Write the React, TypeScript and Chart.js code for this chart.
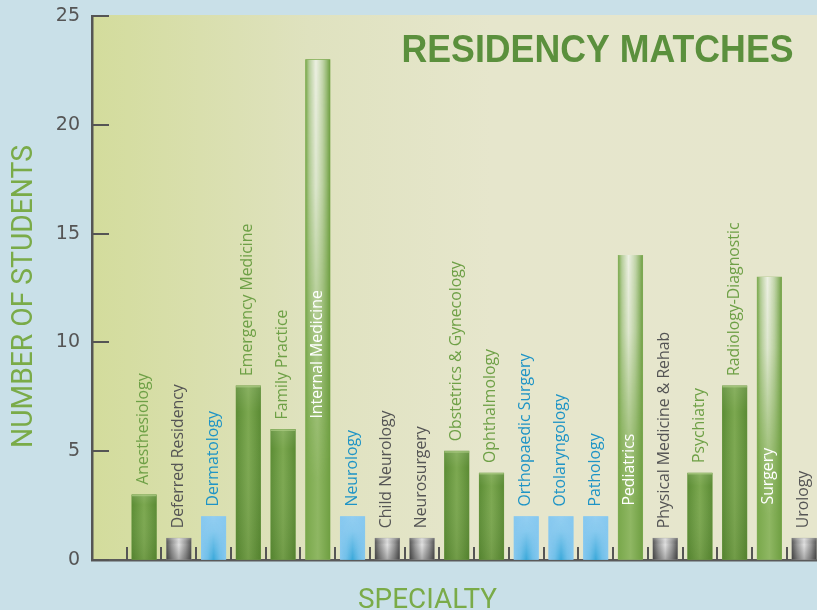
import React, { useEffect, useRef } from 'react';
import { Chart, registerables } from 'chart.js';

Chart.register(...registerables);

const categories = [
  'Anesthesiology',
  'Deferred Residency',
  'Dermatology',
  'Emergency Medicine',
  'Family Practice',
  'Internal Medicine',
  'Neurology',
  'Child Neurology',
  'Neurosurgery',
  'Obstetrics & Gynecology',
  'Ophthalmology',
  'Orthopaedic Surgery',
  'Otolaryngology',
  'Pathology',
  'Pediatrics',
  'Physical Medicine & Rehab',
  'Psychiatry',
  'Radiology-Diagnostic',
  'Surgery',
  'Urology',
];
const students = [3, 1, 2, 8, 6, 23, 2, 1, 1, 5, 4, 2, 2, 2, 14, 1, 4, 8, 13, 1];
const groups = [
  'green', 'gray', 'blue', 'green', 'green', 'tall', 'blue', 'gray', 'gray', 'green',
  'green', 'blue', 'blue', 'blue', 'tall', 'gray', 'green', 'green', 'tall', 'gray',
];
const yTickStep = 5;
const yMax = 25;
const titleText = 'RESIDENCY MATCHES';
const yTitleText = 'NUMBER OF STUDENTS';
const xTitleText = 'SPECIALTY';

const flatColor: Record<string, string> = {
  green: '#6b9a42',
  tall: '#8db563',
  gray: '#8a8a8a',
  blue: '#8ccbf0',
};
const labelColor: Record<string, string> = {
  green: '#6ea046',
  tall: '#ffffff',
  gray: '#555555',
  blue: '#1e94c6',
};
// where the white in-bar labels start (value units), style only
const insideLabelAt: Record<number, number> = { 5: 6.5, 14: 2.5, 18: 2.55 };

function hGrad(ctx: CanvasRenderingContext2D, x: number, w: number, stops: [number, string][]) {
  const g = ctx.createLinearGradient(x, 0, x + w, 0);
  stops.forEach(([p, c]) => g.addColorStop(p, c));
  return g;
}
function vGrad(ctx: CanvasRenderingContext2D, y: number, h: number, stops: [number, string][]) {
  const g = ctx.createLinearGradient(0, y, 0, y + h);
  stops.forEach(([p, c]) => g.addColorStop(p, c));
  return g;
}

function overlay(
  ctx: CanvasRenderingContext2D,
  x: number, y: number, w: number, h: number,
  hStops: [number, string][], vStops: [number, number][]
) {
  const W = Math.max(1, Math.ceil(w));
  const H = Math.max(1, Math.ceil(h));
  const off = document.createElement('canvas');
  off.width = W;
  off.height = H;
  const o = off.getContext('2d')!;
  o.fillStyle = hGrad(o, 0, W, hStops);
  o.fillRect(0, 0, W, H);
  o.globalCompositeOperation = 'destination-in';
  o.fillStyle = vGrad(o, 0, H, vStops.map(([p, a]) => [p, `rgba(0,0,0,${a})`] as [number, string]));
  o.fillRect(0, 0, W, H);
  ctx.drawImage(off, x, y, w, h);
}

function drawBar(ctx: CanvasRenderingContext2D, x: number, y: number, w: number, h: number, type: string) {
  if (h <= 0) return;
  if (type === 'green') {
    ctx.fillStyle = hGrad(ctx, x, w, [[0, '#5c8d35'], [0.5, '#7ca850'], [1, '#5b8b34']]);
    ctx.fillRect(x, y, w, h);
    ctx.fillStyle = vGrad(ctx, y, h, [[0, 'rgba(255,255,255,0.10)'], [0.15, 'rgba(255,255,255,0)'], [1, 'rgba(20,50,0,0.10)']]);
    ctx.fillRect(x, y, w, h);
    ctx.fillStyle = 'rgba(175,205,135,0.7)';
    ctx.fillRect(x, y, w, 1.5);
  } else if (type === 'tall') {
    ctx.fillStyle = hGrad(ctx, x, w, [[0, '#79a84b'], [0.5, '#8fb763'], [1, '#6f9f42']]);
    ctx.fillRect(x, y, w, h);
    const c = '236,239,226';
    overlay(ctx, x, y, w, h,
      [[0, `rgba(${c},0)`], [0.15, `rgba(${c},0.5)`], [0.42, `rgba(${c},1)`], [0.7, `rgba(${c},0.6)`], [1, `rgba(${c},0)`]],
      [[0, 1], [0.25, 0.85], [0.6, 0.25], [0.85, 0]]);
  } else if (type === 'gray') {
    ctx.fillStyle = hGrad(ctx, x, w, [[0, '#585858'], [0.22, '#9c9c9c'], [0.5, '#e2e2e2'], [0.78, '#9c9c9c'], [1, '#585858']]);
    ctx.fillRect(x, y, w, h);
    ctx.fillStyle = vGrad(ctx, y, h, [[0, 'rgba(255,255,255,0.2)'], [0.3, 'rgba(0,0,0,0)'], [1, 'rgba(0,0,0,0.25)']]);
    ctx.fillRect(x, y, w, h);
  } else {
    ctx.fillStyle = hGrad(ctx, x, w, [[0, '#86c8ef'], [0.5, '#93cff2'], [1, '#86c8ef']]);
    ctx.fillRect(x, y, w, h);
    const c = '38,160,212';
    overlay(ctx, x, y, w, h,
      [[0, `rgba(${c},0)`], [0.25, `rgba(${c},0.35)`], [0.5, `rgba(${c},0.95)`], [0.75, `rgba(${c},0.35)`], [1, `rgba(${c},0)`]],
      [[0, 0], [0.35, 0.12], [1, 0.85]]);
  }
}

function fitText(
  ctx: CanvasRenderingContext2D, text: string, cx: number, baseY: number,
  width: number, font: string, color: string, angle: number
) {
  ctx.save();
  ctx.font = font;
  ctx.fillStyle = color;
  ctx.translate(cx, baseY);
  ctx.rotate(angle);
  const m = ctx.measureText(text).width;
  ctx.scale(width / m, 1);
  ctx.textAlign = 'center';
  ctx.textBaseline = 'alphabetic';
  ctx.fillText(text, 0, 0);
  ctx.restore();
}

const decorPlugin = {
  id: 'decor',
  beforeDraw(chart: any) {
    const { ctx, chartArea: a } = chart;
    ctx.save();
    ctx.fillStyle = hGrad(ctx, a.left, a.right - a.left, [
      [0, '#d3dc9c'], [0.3, '#dfe2bf'], [0.55, '#e6e6cc'], [1, '#e6e6cd'],
    ]);
    ctx.fillRect(a.left, a.top - 1, a.right - a.left, a.bottom - a.top + 1);
    ctx.restore();
  },
  afterDatasetsDraw(chart: any) {
    const { ctx, chartArea: a } = chart;
    const meta = chart.getDatasetMeta(0);
    const ys = chart.scales.y;
    ctx.save();
    ctx.beginPath();
    ctx.rect(a.left, a.top - 1, a.right - a.left, a.bottom - a.top + 1);
    ctx.clip();
    meta.data.forEach((el: any, i: number) => {
      const p = el.getProps(['x', 'y', 'base', 'width'], true);
      drawBar(ctx, p.x - p.width / 2, p.y, p.width, p.base - p.y, groups[i]);
    });
    ctx.font = '15.8px "Open Sans"';
    meta.data.forEach((el: any, i: number) => {
      const p = el.getProps(['x', 'y'], true);
      const inside = insideLabelAt[i] !== undefined;
      const start = inside ? ys.getPixelForValue(insideLabelAt[i]) : p.y - 10;
      ctx.save();
      ctx.translate(p.x + 4, start);
      ctx.rotate(-Math.PI / 2);
      ctx.textAlign = 'left';
      ctx.textBaseline = 'alphabetic';
      ctx.fillStyle = inside ? '#ffffff' : labelColor[groups[i]];
      ctx.fillText(categories[i], 0, 0);
      ctx.restore();
    });
    ctx.restore();
  },
  afterDraw(chart: any) {
    const { ctx, chartArea: a } = chart;
    const ys = chart.scales.y;
    const xs = chart.scales.x;
    ctx.save();
    ctx.strokeStyle = '#555555';
    ctx.lineWidth = 2;
    ctx.beginPath();
    ys.ticks.forEach((t: any) => {
      const py = Math.round(ys.getPixelForValue(t.value));
      ctx.moveTo(a.left, py);
      ctx.lineTo(a.left + 17, py);
    });
    for (let k = -0.5; k < xs.max; k += 1) {
      const px = Math.round(xs.getPixelForValue(k));
      ctx.moveTo(px, a.bottom);
      ctx.lineTo(px, a.bottom - 13);
    }
    ctx.stroke();
    ctx.restore();

    fitText(ctx, titleText, 597.5, 62, 392, 'bold 38px "Liberation Sans"', '#5b903d', 0);
    fitText(ctx, yTitleText, 31.5, 296.5, 303, '30px Roboto', '#7aab48', -Math.PI / 2);
    fitText(ctx, xTitleText, 427.5, 608, 139, '28px Roboto', '#7aab48', 0);
  },
};

export default function App() {
  const ref = useRef<HTMLCanvasElement>(null);
  useEffect(() => {
    if (!ref.current) return;
    const chart = new Chart(ref.current, {
      type: 'bar',
      data: {
        datasets: [
          {
            label: 'Students',
            data: students.map((v, i) => ({ x: i, y: v })),
            backgroundColor: groups.map((g) => flatColor[g]),
            borderWidth: 0,
            barThickness: 24.5,
          },
        ],
      },
      options: {
        responsive: false,
        animation: false,
        devicePixelRatio: 1,
        layout: { padding: { top: 16, bottom: 50, left: 0, right: 0 } },
        plugins: {
          legend: { display: false },
          tooltip: { enabled: false },
          title: { display: false },
        },
        scales: {
          x: {
            type: 'linear',
            min: -1.5,
            max: 19.37,
            offset: false,
            z: 1,
            ticks: { display: false },
            grid: { drawOnChartArea: false, drawTicks: false },
            border: { display: true, color: '#5a5a5a', width: 2.5 },
            afterFit: (s: any) => {
              s.height = 0;
              s.paddingLeft = 0;
              s.paddingRight = 0;
            },
          },
          y: {
            min: 0,
            max: yMax,
            z: 1,
            ticks: {
              stepSize: yTickStep,
              padding: 12,
              color: '#555555',
              font: { family: 'DejaVu Sans', size: 19 },
            },
            grid: { drawOnChartArea: false, drawTicks: false },
            border: { display: true, color: '#555555', width: 2.5 },
            afterFit: (s: any) => {
              s.width = 92;
              s.paddingTop = 0;
              s.paddingBottom = 0;
            },
          },
        },
      },
      plugins: [decorPlugin],
    } as any);
    return () => chart.destroy();
  }, []);

  return (
    <div
      style={{
        position: 'fixed',
        left: 0,
        top: 0,
        width: 817,
        height: 610,
        background: '#c9e0e8',
        overflow: 'hidden',
      }}
    >
      <canvas ref={ref} width={817} height={610} style={{ display: 'block' }} />
    </div>
  );
}
